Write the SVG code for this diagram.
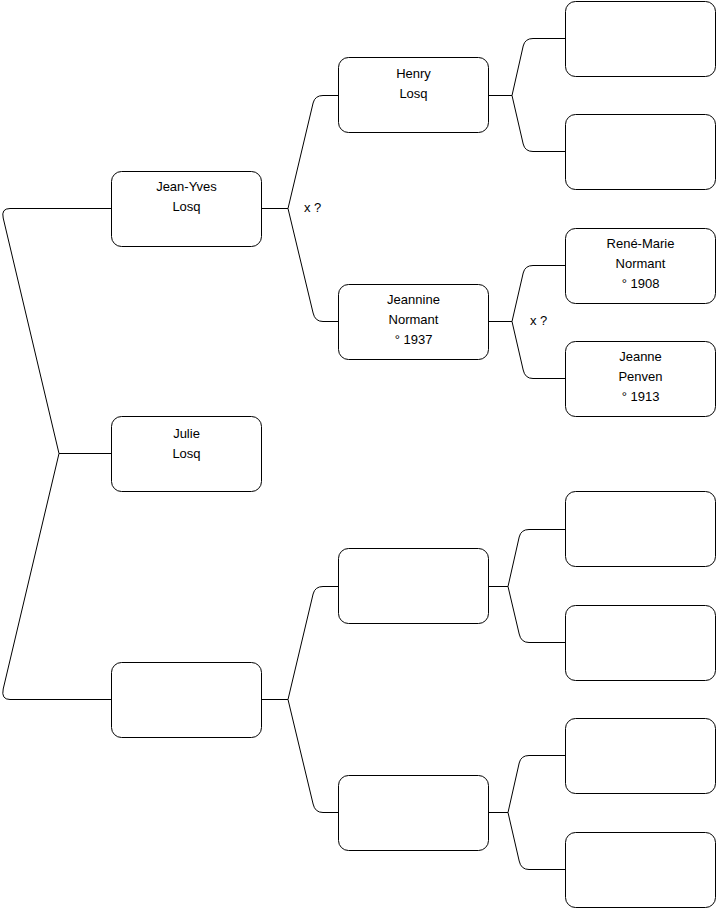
<svg xmlns="http://www.w3.org/2000/svg" width="716" height="908" viewBox="0 0 716 908">
<style>
.box{fill:#fff;stroke:#000;stroke-width:1}
.c{fill:none;stroke:#000;stroke-width:1}
text{font-family:"Liberation Sans",Arial,sans-serif;font-size:13px;fill:#000}
.m{text-anchor:middle}
</style>
<rect width="716" height="908" fill="#fff"/>
<g id="connectors">
<path class="c" d="M111,453.5 H59 L3.2,218 Q1,208.5 10,208.5 H111"/>
<path class="c" d="M59,453.5 L3.2,689 Q1,699.5 10,699.5 H111"/>
<path class="c" d="M261,208.5 H288 L313.1,103 Q315,95.5 323,95.5 H338"/>
<path class="c" d="M288,208.5 L313.1,313 Q315,321.5 323,321.5 H338"/>
<path class="c" d="M488,95.5 H512 L523.2,46 Q525,38.5 533,38.5 H565"/>
<path class="c" d="M512,95.5 L523.2,144 Q525,151.5 533,151.5 H565"/>
<path class="c" d="M488,321.5 H512 L523.2,273 Q525,265.5 533,265.5 H565"/>
<path class="c" d="M512,321.5 L523.2,370 Q525,378.5 533,378.5 H565"/>
<path class="c" d="M261,699.5 H288 L313.1,594 Q315,586.5 323,586.5 H338"/>
<path class="c" d="M288,699.5 L313.1,804 Q315,812.5 323,812.5 H338"/>
<path class="c" d="M488,586.5 H508 L519.2,537 Q521,529.5 529,529.5 H565"/>
<path class="c" d="M508,586.5 L519.2,634 Q521,642.5 529,642.5 H565"/>
<path class="c" d="M488,812.5 H508 L519.2,763 Q521,755.5 529,755.5 H565"/>
<path class="c" d="M508,812.5 L519.2,861 Q521,869.5 529,869.5 H565"/>
<text x="304" y="212">x ?</text>
<text x="530" y="325">x ?</text>
</g>
<g id="jeanyves"><rect class="box" x="111.5" y="171.5" width="150" height="75" rx="10"/><text class="m" x="186.5" y="191">Jean-Yves</text><text class="m" x="186.5" y="211">Losq</text></g>
<g id="julie"><rect class="box" x="111.5" y="416.5" width="150" height="75" rx="10"/><text class="m" x="186.5" y="438">Julie</text><text class="m" x="186.5" y="458">Losq</text></g>
<g id="mother"><rect class="box" x="111.5" y="662.5" width="150" height="75" rx="10"/></g>
<g id="henry"><rect class="box" x="338.5" y="57.5" width="150" height="75" rx="10"/><text class="m" x="413.5" y="78">Henry</text><text class="m" x="413.5" y="98">Losq</text></g>
<g id="jeannine"><rect class="box" x="338.5" y="284.5" width="150" height="75" rx="10"/><text class="m" x="413.5" y="304">Jeannine</text><text class="m" x="413.5" y="324">Normant</text><text class="m" x="413.5" y="344">° 1937</text></g>
<g id="mgf"><rect class="box" x="338.5" y="548.5" width="150" height="75" rx="10"/></g>
<g id="mgm"><rect class="box" x="338.5" y="775.5" width="150" height="75" rx="10"/></g>
<g id="r1"><rect class="box" x="565.5" y="1.5" width="150" height="75" rx="10"/></g>
<g id="r2"><rect class="box" x="565.5" y="114.5" width="150" height="75" rx="10"/></g>
<g id="renemarie"><rect class="box" x="565.5" y="228.5" width="150" height="75" rx="10"/><text class="m" x="640.5" y="248">René-Marie</text><text class="m" x="640.5" y="268">Normant</text><text class="m" x="640.5" y="288">° 1908</text></g>
<g id="jeanne"><rect class="box" x="565.5" y="341.5" width="150" height="75" rx="10"/><text class="m" x="640.5" y="361">Jeanne</text><text class="m" x="640.5" y="381">Penven</text><text class="m" x="640.5" y="401">° 1913</text></g>
<g id="r5"><rect class="box" x="565.5" y="491.5" width="150" height="75" rx="10"/></g>
<g id="r6"><rect class="box" x="565.5" y="605.5" width="150" height="75" rx="10"/></g>
<g id="r7"><rect class="box" x="565.5" y="718.5" width="150" height="75" rx="10"/></g>
<g id="r8"><rect class="box" x="565.5" y="832.5" width="150" height="75" rx="10"/></g>
</svg>
